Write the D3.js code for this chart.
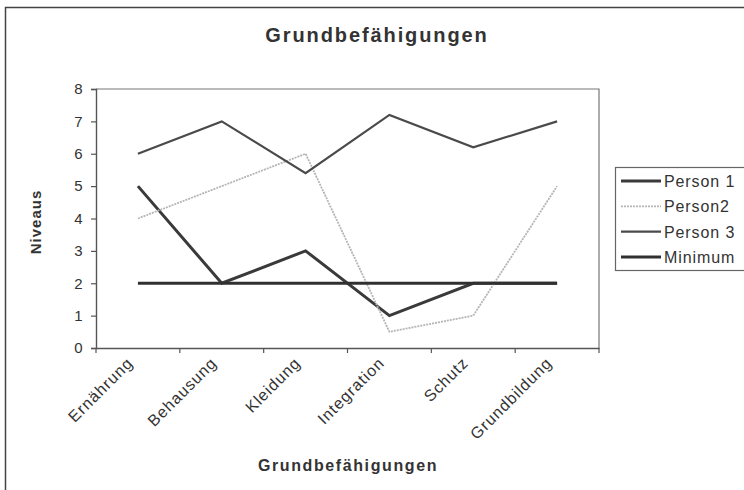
<!DOCTYPE html>
<html><head><meta charset="utf-8">
<script src="https://cdn.jsdelivr.net/npm/d3@7"></script>
<style>body{margin:0;background:#fff}svg{display:block;font-family:"Liberation Sans",Arial,sans-serif}</style>
</head><body><svg width="744" height="490"></svg>
<script>
const categories = ["Ernährung","Behausung","Kleidung","Integration","Schutz","Grundbildung"];
const person1 = [5, 2, 3, 1, 2, 2];
const person2 = [4, 5, 6, 0.5, 1, 5];
const person3 = [6, 7, 5.4, 7.2, 6.2, 7];
const minimum = [2, 2, 2, 2, 2, 2];
const yTicks = [0,1,2,3,4,5,6,7,8];
const seriesNames = ["Person 1","Person2","Person 3","Minimum"];

const series = [
  {name: seriesNames[0], values: person1, color: "#3a3a3a", width: 3, dash: null},
  {name: seriesNames[1], values: person2, color: "#b5b5b5", width: 1.8, dash: "2,1"},
  {name: seriesNames[2], values: person3, color: "#4a4a4a", width: 2.2, dash: null},
  {name: seriesNames[3], values: minimum, color: "#303030", width: 3, dash: null}
];

const svg = d3.select("svg");
const textColor = "#333";
// outer frame
svg.append("rect").attr("x",5.5).attr("y",7.5).attr("width",760).attr("height",500)
  .attr("fill","none").attr("stroke","#444").attr("stroke-width",1.5);

const L=96, R=599, T=89, B=348;
const x = d3.scaleBand().domain(categories).range([L,R]);
const y = d3.scaleLinear().domain([0,8]).range([B,T]);

// plot area border (top & right)
svg.append("path").attr("d",`M${L},${T}H${R}V${B}`).attr("fill","none").attr("stroke","#777").attr("stroke-width",1.2);

const yAxis = svg.append("g").attr("transform",`translate(${L},0)`)
  .call(d3.axisLeft(y).tickValues(yTicks).tickSize(5).tickPadding(8));
const xAxis = svg.append("g").attr("transform",`translate(0,${B})`)
  .call(d3.axisBottom(x).tickValues([]).tickSizeOuter(0));
// category boundary ticks
svg.append("g").selectAll("line").data(categories.concat(["_end"])).join("line")
  .attr("x1",(d,i)=>L+i*x.bandwidth()).attr("x2",(d,i)=>L+i*x.bandwidth())
  .attr("y1",B).attr("y2",B+5).attr("stroke","#555").attr("stroke-width",1.2);
[yAxis,xAxis].forEach(a=>{a.select(".domain").attr("stroke","#555").attr("stroke-width",1.4);
  a.selectAll(".tick line").attr("stroke","#555").attr("stroke-width",1.2);
  a.selectAll("text").attr("fill",textColor).attr("font-size",15).attr("letter-spacing",0.5);});

// x labels rotated
svg.append("g").selectAll("text").data(categories).join("text")
  .attr("transform",d=>`translate(${x(d)+x.bandwidth()/2-4},${B+16}) rotate(-45)`)
  .attr("text-anchor","end").attr("font-size",16).attr("letter-spacing",1)
  .attr("fill",textColor).text(d=>d);

const line = d3.line().x((d,i)=>x(categories[i])+x.bandwidth()/2).y(d=>y(d));
series.forEach(s=>{
  svg.append("path").attr("d",line(s.values)).attr("fill","none")
    .attr("stroke",s.color).attr("stroke-width",s.width)
    .attr("stroke-dasharray",s.dash).attr("stroke-linejoin","miter");
});

// titles
svg.append("text").attr("x",377).attr("y",42).attr("text-anchor","middle")
  .attr("font-size",20).attr("font-weight","bold").attr("letter-spacing",1.9)
  .attr("fill",textColor).text("Grundbefähigungen");
svg.append("text").attr("x",348).attr("y",471).attr("text-anchor","middle")
  .attr("font-size",16).attr("font-weight","bold").attr("letter-spacing",1.6)
  .attr("fill",textColor).text("Grundbefähigungen");
svg.append("text").attr("transform","translate(41,222) rotate(-90)").attr("text-anchor","middle")
  .attr("font-size",15).attr("font-weight","bold").attr("letter-spacing",1)
  .attr("fill",textColor).text("Niveaus");

// legend
const lg = svg.append("g");
lg.append("rect").attr("x",615.5).attr("y",167.5).attr("width",140).attr("height",103)
  .attr("fill","#fff").attr("stroke","#666").attr("stroke-width",1.2);
series.forEach((s,i)=>{
  const yy = 181 + i*25.3;
  lg.append("line").attr("x1",621).attr("x2",661).attr("y1",yy).attr("y2",yy)
    .attr("stroke",s.color).attr("stroke-width",s.width).attr("stroke-dasharray",s.dash);
  lg.append("text").attr("x",664).attr("y",yy+6).attr("font-size",16).attr("letter-spacing",0.9)
    .attr("fill",textColor).text(s.name);
});
</script></body></html>
